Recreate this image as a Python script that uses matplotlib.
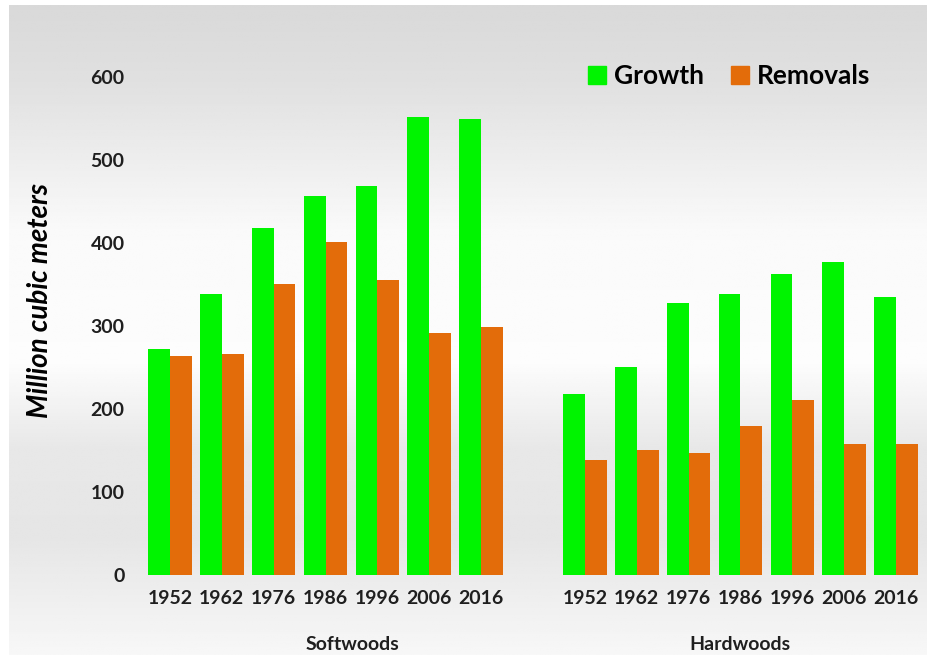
import numpy as np
import matplotlib.pyplot as plt
from matplotlib.patches import Patch

years = ['1952', '1962', '1976', '1986', '1996', '2006', '2016']
soft_growth = [272, 338, 418, 457, 468, 552, 549]
soft_removals = [264, 266, 350, 401, 355, 292, 299]
hard_growth = [218, 251, 328, 338, 362, 377, 335]
hard_removals = [138, 151, 147, 179, 211, 158, 158]

green = '#00f400'
orange = '#e36c0a'
txt = '#1f1f1f'

plt.rcParams['font.family'] = ['Lato', 'DejaVu Sans']

fig = plt.figure(figsize=(9.27, 6.55), dpi=100)

# grey gradient panel behind everything
bg = fig.add_axes([9 / 927, 0, 918 / 927, 650 / 655], zorder=-1)
stops_y = [0.0, 0.12, 0.35, 0.55, 0.68, 0.82, 1.0]
stops_c = [0.85, 0.88, 0.98, 0.99, 0.91, 0.90, 0.97]
yy = np.linspace(0, 1, 300)
grad = np.interp(yy, stops_y, stops_c)
bg.imshow(np.tile(grad[:, None], (1, 10)), cmap='gray', vmin=0, vmax=1,
          aspect='auto', extent=[0, 1, 1, 0])
bg.axis('off')

ax = fig.add_axes([144 / 927, 80 / 655, 778 / 927, 548 / 655])
ax.patch.set_alpha(0)

xs = np.arange(len(years))
xh = xs + 8
w = 0.42
ax.bar(xs - w / 2, soft_growth, w, color=green, zorder=2)
ax.bar(xs + w / 2, soft_removals, w, color=orange, zorder=2)
ax.bar(xh - w / 2, hard_growth, w, color=green, zorder=2)
ax.bar(xh + w / 2, hard_removals, w, color=orange, zorder=2)

ax.set_xlim(-0.5, 14.5)
ax.set_ylim(0, 660)
ax.set_yticks(range(0, 601, 100))
ax.set_xticks(np.concatenate([xs, xh]))
ax.set_xticklabels(years + years)
ax.tick_params(axis='both', length=0, labelsize=14, colors=txt)
ax.tick_params(axis='y', pad=14)
ax.tick_params(axis='x', pad=11)
for lab in ax.get_xticklabels() + ax.get_yticklabels():
    lab.set_fontweight('bold')
for s in ax.spines.values():
    s.set_visible(False)

fig.text(352 / 927, 1 - 645 / 655, 'Softwoods', ha='center', va='center',
         fontsize=14, fontweight='bold', color=txt)
fig.text(740 / 927, 1 - 645 / 655, 'Hardwoods', ha='center', va='center',
         fontsize=14, fontweight='bold', color=txt)
fig.text(40 / 927, 1 - 301 / 655, 'Million cubic meters', rotation=90,
         ha='center', va='center', fontsize=20, fontweight='bold',
         fontstyle='italic', color='black')

handles = [Patch(color=green, label='Growth'), Patch(color=orange, label='Removals')]
fig.legend(handles=handles, loc='center', bbox_to_anchor=(729 / 927, 1 - 76 / 655),
           ncol=2, frameon=False, prop={'weight': 'bold', 'size': 19},
           handlelength=0.7, handleheight=0.7, handletextpad=0.3, columnspacing=1.0)

fig.savefig('out.png', dpi=100)
